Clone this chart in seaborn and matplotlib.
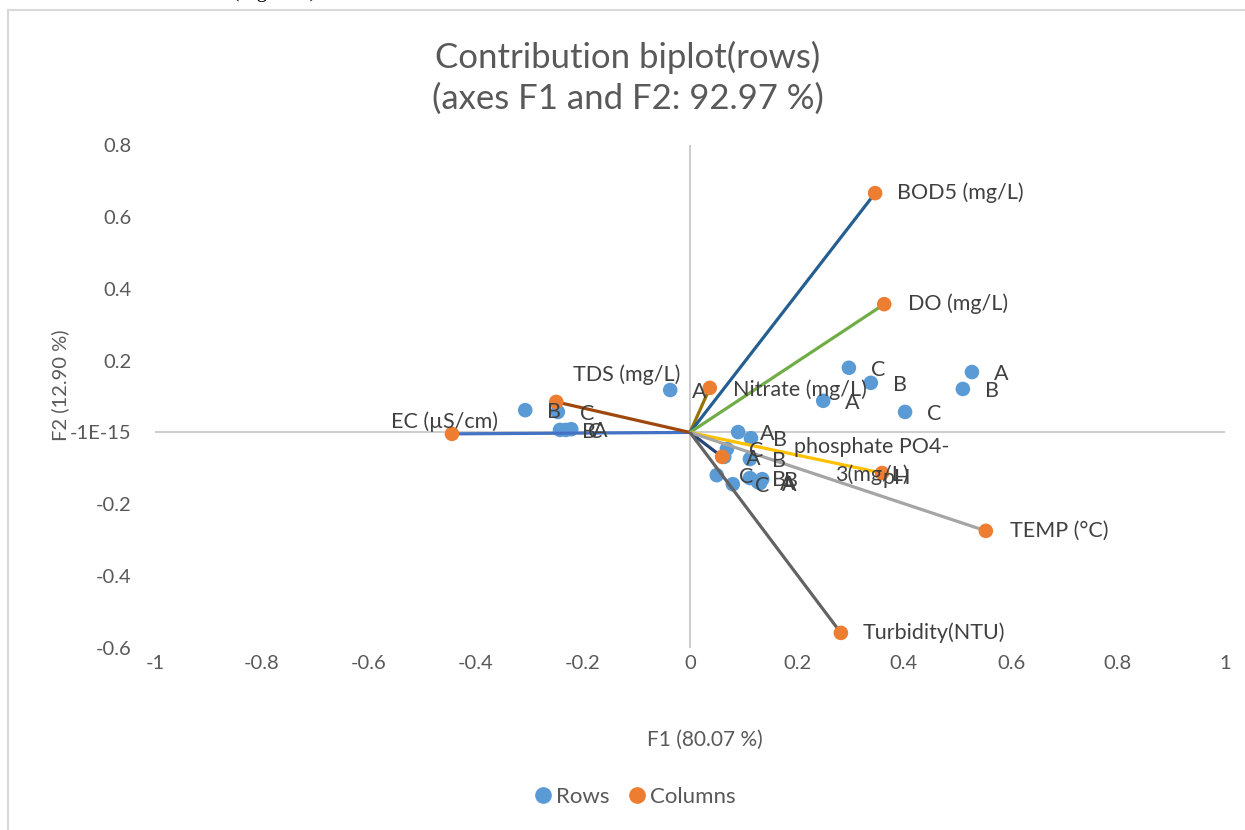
import matplotlib
matplotlib.use("Agg")
import matplotlib.pyplot as plt
from matplotlib.lines import Line2D
import seaborn as sns
import pandas as pd

# ---------------- data ----------------
row_x = [-0.308, -0.247, -0.243, -0.232, -0.222, -0.037,
         0.297, 0.338, 0.249, 0.402, 0.527, 0.510,
         0.090, 0.114, 0.069, 0.064, 0.112, 0.050, 0.080, 0.112, 0.135, 0.127, 0.131]
row_y = [0.062, 0.057, 0.007, 0.007, 0.009, 0.118,
         0.180, 0.138, 0.088, 0.057, 0.168, 0.121,
         0.001, -0.016, -0.046, -0.068, -0.074, -0.119, -0.144, -0.127, -0.130, -0.138, -0.141]
row_labels = ["B", "C", "B", "C", "A", "A",
              "C", "B", "A", "C", "A", "B",
              "A", "B", "C", "A", "B", "C", "C", "B", "B", "A", "A"]

col_names = ["EC (µS/cm)", "TDS (mg/L)", "Nitrate (mg/L)", "BOD5 (mg/L)", "DO (mg/L)",
             "pH", "phosphate PO4-\n3(mg/L)", "TEMP (°C)", "Turbidity(NTU)"]
col_x = [-0.445, -0.250, 0.037, 0.346, 0.363, 0.060, 0.359, 0.553, 0.282]
col_y = [-0.004, 0.085, 0.124, 0.666, 0.357, -0.068, -0.113, -0.274, -0.558]

x_ticks = [-1, -0.8, -0.6, -0.4, -0.2, 0, 0.2, 0.4, 0.6, 0.8, 1]
x_tick_labels = ["-1", "-0.8", "-0.6", "-0.4", "-0.2", "0", "0.2", "0.4", "0.6", "0.8", "1"]
y_ticks = [-0.6, -0.4, -0.2, 0, 0.2, 0.4, 0.6, 0.8]
y_tick_labels = ["-0.6", "-0.4", "-0.2", "-1E-15", "0.2", "0.4", "0.6", "0.8"]

title = "Contribution biplot(rows)\n(axes F1 and F2: 92.97 %)"
x_title = "F1 (80.07 %)"
y_title = "F2 (12.90 %)"

# ---------------- styles ----------------
line_colors = ["#4472C4", "#9E480E", "#997300", "#255E91", "#70AD47",
               "#264478", "#FFC000", "#A5A5A5", "#636363"]
# label offsets in pixels (dx, dy), ha, va
col_label_pos = [(-7, 12, "center", "center"),
                 (17, 27, "left", "center"),
                 (23, -2, "left", "center"),
                 (22, 0, "left", "center"),
                 (24, 0, "left", "center"),
                 (160, -21, "left", "center"),
                 (-10, 12, "center", "center"),
                 (24, 0, "left", "center"),
                 (22, 0, "left", "center")]

ROW_C = "#5B9BD5"
COL_C = "#ED7D31"
TXT = "#404040"
TICK = "#595959"

sns.set_theme(style="white")
plt.rcParams["font.family"] = ["Lato", "DejaVu Sans"]

fig = plt.figure(figsize=(12.45, 8.3), dpi=100)
fig.patch.set_facecolor("white")
ax = fig.add_axes([155 / 1245, 1 - 648 / 830, 1070 / 1245, 503 / 830])

ax.set_xlim(-1, 1)
ax.set_ylim(-0.6, 0.8)

ax.axhline(0, color="#BFBFBF", lw=1.1, zorder=1)
ax.axvline(0, color="#BFBFBF", lw=1.1, zorder=1)

rows_df = pd.DataFrame({"x": row_x, "y": row_y, "label": row_labels})
cols_df = pd.DataFrame({"x": col_x, "y": col_y, "name": col_names})

sns.scatterplot(data=rows_df, x="x", y="y", color=ROW_C, s=110, edgecolor="none",
                ax=ax, zorder=2, legend=False)

for cx, cy, c in zip(col_x, col_y, line_colors):
    ax.plot([0, cx], [0, cy], color=c, lw=2.3, zorder=3, solid_capstyle="butt")

sns.scatterplot(data=cols_df, x="x", y="y", color=COL_C, s=110, edgecolor="none",
                ax=ax, zorder=4, legend=False)

for x, y, lab in zip(row_x, row_y, row_labels):
    ax.annotate(lab, (x, y), xytext=(22, -2), textcoords="offset pixels",
                ha="left", va="center", fontsize=15.5, color=TXT, zorder=5)

for x, y, name, (dx, dy, ha, va) in zip(col_x, col_y, col_names, col_label_pos):
    ax.annotate(name, (x, y), xytext=(dx, dy), textcoords="offset pixels",
                ha=ha, va=va, fontsize=15.5, color=TXT, zorder=5,
                multialignment="center", linespacing=1.45)

for s in ax.spines.values():
    s.set_visible(False)
ax.set_xticks(x_ticks)
ax.set_xticklabels(x_tick_labels)
ax.set_yticks(y_ticks)
ax.set_yticklabels(y_tick_labels)
ax.tick_params(axis="both", length=0, labelsize=14.5, labelcolor=TICK)
ax.tick_params(axis="x", pad=5)
ax.tick_params(axis="y", pad=17)
ax.set_xlabel("")
ax.set_ylabel("")
ax.grid(False)

fig.text(628 / 1245, 1 - 78 / 830, title, ha="center", va="center",
         fontsize=25, color=TICK, linespacing=1.3)
fig.text(705 / 1245, 1 - 740 / 830, x_title, ha="center", va="center",
         fontsize=15, color=TICK)
fig.text(60 / 1245, 1 - 385 / 830, y_title, ha="center", va="center",
         fontsize=14.5, color=TICK, rotation=90)

handles = [Line2D([], [], marker="o", ls="none", color=ROW_C, markersize=11, label="Rows"),
           Line2D([], [], marker="o", ls="none", color=COL_C, markersize=11, label="Columns")]
fig.legend(handles=handles, loc="center", bbox_to_anchor=(636 / 1245, 1 - 797 / 830),
           ncol=2, frameon=False, fontsize=16, handlelength=0.6, handletextpad=0.3,
           columnspacing=0.9, labelcolor=TICK)

# chart-area border (left and top) and the cut-off document text above it
fig.add_artist(Line2D([8 / 1245, 8 / 1245], [0, 1 - 10 / 830], color="#D9D9D9", lw=1.5))
fig.add_artist(Line2D([8 / 1245, 1], [1 - 10 / 830, 1 - 10 / 830], color="#D9D9D9", lw=1.5))
fig.text(0, 1 + 8 / 830, "h and had weak correlation (Figure 6).", ha="left", va="center",
         fontsize=15, color="black", family=["Liberation Serif", "DejaVu Serif"])

fig.savefig("out.png", dpi=100)
